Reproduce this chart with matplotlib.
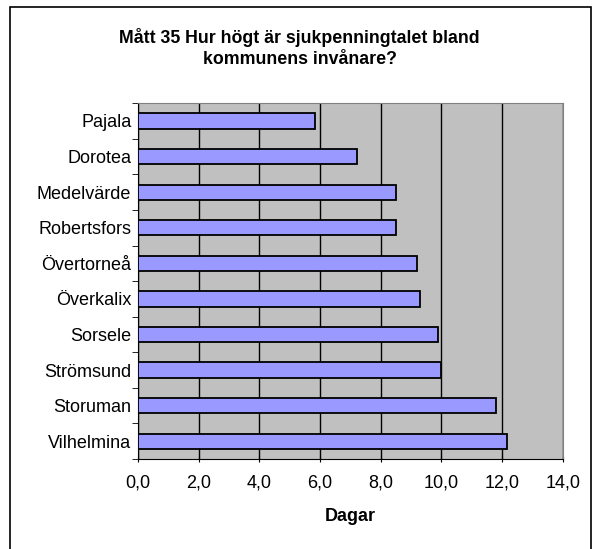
import matplotlib.pyplot as plt
import numpy as np
from matplotlib.patches import Rectangle

plt.rcParams["font.family"] = ["Liberation Sans", "DejaVu Sans"]

kommuner = [
    "Pajala",
    "Dorotea",
    "Medelvärde",
    "Robertsfors",
    "Övertorneå",
    "Överkalix",
    "Sorsele",
    "Strömsund",
    "Storuman",
    "Vilhelmina",
]
dagar = [5.83, 7.22, 8.5, 8.5, 9.2, 9.3, 9.89, 10.0, 11.8, 12.18]
xticks = [0, 2, 4, 6, 8, 10, 12, 14]
xlabels = ["0,0", "2,0", "4,0", "6,0", "8,0", "10,0", "12,0", "14,0"]

fig = plt.figure(figsize=(5.97, 5.49), dpi=100)
ax = fig.add_axes([0.2315, 0.164, 0.711, 0.648])

# outer frame like the Excel chart area
fig.patches.append(
    Rectangle((10 / 597, -0.01), 581 / 597, 1 - 7 / 549 + 0.01,
              transform=fig.transFigure, fill=False, edgecolor="black",
              linewidth=1.2)
)

ax.set_facecolor("#C0C0C0")
y = np.arange(len(kommuner))
ax.barh(y, dagar, height=0.43, color="#9999FF", edgecolor="black",
        linewidth=1.3, zorder=3)

ax.set_xlim(0, 14)
ax.set_ylim(len(kommuner) - 0.5, -0.5)
ax.set_xticks(xticks)
ax.set_xticklabels(xlabels, fontsize=13)
ax.set_yticks(y)
ax.set_yticklabels(kommuner, fontsize=13)
ax.tick_params(axis="y", length=0, pad=5)
ax.set_yticks(np.arange(len(kommuner) + 1) - 0.5, minor=True)
ax.tick_params(axis="y", which="minor", length=4, direction="out")
ax.tick_params(axis="x", length=4, direction="inout", pad=9)

ax.grid(axis="x", color="black", linewidth=1.0, zorder=1)
ax.set_axisbelow(True)

for side in ["top", "right"]:
    ax.spines[side].set_color("#808080")
ax.spines["left"].set_color("black")
ax.spines["bottom"].set_color("black")

ax.set_xlabel("Dagar", fontsize=13, fontweight="bold", labelpad=12)
fig.text(0.502, 0.913, "Mått 35 Hur högt är sjukpenningtalet bland\nkommunens invånare?",
         ha="center", va="center", fontsize=12.8, fontweight="bold", linespacing=1.3)

fig.savefig("out.png", dpi=100)
